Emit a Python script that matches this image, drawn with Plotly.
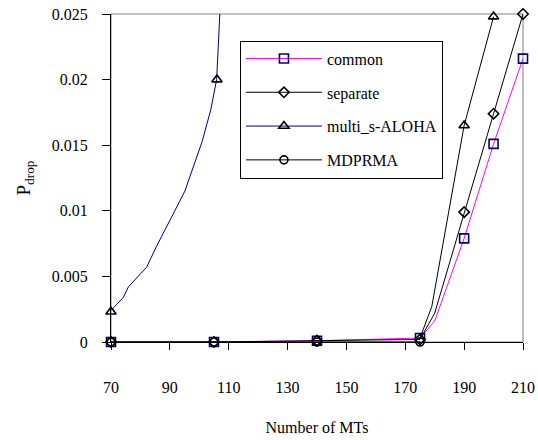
import plotly.graph_objects as go

# ---- data ----
x_ticks = [70, 90, 110, 130, 150, 170, 190, 210]
y_ticks = [0, 0.005, 0.01, 0.015, 0.02, 0.025]
y_ticklabels = ["0", "0.005", "0.01", "0.015", "0.02", "0.025"]

# common
common_line_x = [70, 105, 140, 175, 180, 190, 200, 210]
common_line_y = [0, 0, 0.0001, 0.0003, 0.0016, 0.0079, 0.0151, 0.0216]
common_mark_x = [70, 105, 140, 175, 190, 200, 210]
common_mark_y = [0, 0, 0.0001, 0.0003, 0.0079, 0.0151, 0.0216]

# separate
separate_line_x = [70, 105, 140, 175, 180, 190, 200, 210]
separate_line_y = [0, 0, 0.0001, 0.0002, 0.0022, 0.0099, 0.0174, 0.025]
separate_mark_x = [70, 105, 140, 175, 190, 200, 210]
separate_mark_y = [0, 0, 0.0001, 0.0002, 0.0099, 0.0174, 0.025]

# multi_s-ALOHA (analytical curve + simulation markers)
aloha_line_x = [70, 74.2, 75.9, 82.1, 85.5, 90.0, 95.1, 101.0, 103.9, 105.9, 106.5, 107.0]
aloha_line_y = [0.0024, 0.0034, 0.0042, 0.0057, 0.0073, 0.0093, 0.0115, 0.0153, 0.0177, 0.0200, 0.0223, 0.0251]
aloha_mark_x = [70, 106]
aloha_mark_y = [0.0023, 0.0200]

# second triangle curve (right side)
tri2_line_x = [175, 179, 190, 200]
tri2_line_y = [0.0003, 0.0027, 0.0165, 0.0248]
tri2_mark_x = [190, 200]
tri2_mark_y = [0.0165, 0.0248]

# MDPRMA
mdprma_x = [70, 105, 140, 175]
mdprma_y = [0, 0, 0, 0]

NAVY = "#000080"
MAG = "#FF00FF"
BLK = "#000000"
FONT = "Liberation Serif, Times New Roman, serif"

fig = go.Figure()

def add_series(name, lx, ly, mx, my, line_color, symbol, msize, mcolor, legend=True):
    fig.add_trace(go.Scatter(x=lx, y=ly, mode="lines",
                             line=dict(color=line_color, width=1),
                             showlegend=False, hoverinfo="skip"))
    fig.add_trace(go.Scatter(x=mx, y=my, mode="markers", cliponaxis=False,
                             marker=dict(symbol=symbol, size=msize, color=mcolor,
                                         line=dict(color=mcolor, width=1.6)),
                             showlegend=False, hoverinfo="skip"))
    if legend:
        fig.add_trace(go.Scatter(x=[None], y=[None], mode="lines+markers", name=name,
                                 legendgroup=name,
                                 line=dict(color=line_color, width=1),
                                 marker=dict(symbol=symbol, size=msize, color=mcolor,
                                             line=dict(color=mcolor, width=1.6))))

add_series("common", common_line_x, common_line_y, common_mark_x, common_mark_y,
           MAG, "square-open", 9, NAVY)
add_series("separate", separate_line_x, separate_line_y, separate_mark_x, separate_mark_y,
           BLK, "diamond-open", 8, BLK)
add_series("multi_s-ALOHA", aloha_line_x, aloha_line_y, aloha_mark_x, aloha_mark_y,
           NAVY, "triangle-up-open", 9, BLK)
add_series("tri2", tri2_line_x, tri2_line_y, tri2_mark_x, tri2_mark_y,
           BLK, "triangle-up-open", 9, BLK, legend=False)
add_series("MDPRMA", mdprma_x, mdprma_y, mdprma_x, mdprma_y,
           BLK, "circle-open", 8, BLK)

fig.update_layout(
    width=538, height=440,
    margin=dict(l=111, r=15, t=14, b=98, autoexpand=False),
    paper_bgcolor="white", plot_bgcolor="white",
    font=dict(family=FONT, size=16, color="black"),
    legend=dict(x=0.313, y=0.919, xanchor="left", yanchor="top",
                bordercolor="black", borderwidth=1, bgcolor="white",
                font=dict(family=FONT, size=16, color="black"),
                tracegroupgap=10, itemwidth=76),
    shapes=[dict(type="rect", xref="paper", yref="paper", x0=0, x1=1, y0=0, y1=1,
                 line=dict(color="#808080", width=1), layer="below")],
)

fig.update_xaxes(range=[70, 210], tickvals=x_ticks, ticktext=[str(v) for v in x_ticks],
                 showgrid=False, zeroline=False, showline=True, linecolor="black", linewidth=1,
                 ticks="outside", ticklen=7, tickcolor="black", ticklabelstandoff=24,
                 ticklabeloverflow="allow",
                 title=dict(text="Number of MTs", standoff=26, font=dict(size=16)))
fig.update_yaxes(range=[0, 0.025], tickvals=y_ticks, ticktext=y_ticklabels,
                 showgrid=False, zeroline=False, showline=True, linecolor="black", linewidth=1,
                 ticks="outside", ticklen=8, tickcolor="black", ticklabelstandoff=11,
                 ticklabeloverflow="allow",
                 title=dict(text="P<sub>drop</sub>", standoff=16, font=dict(size=19)))

fig.write_html("out.html",
               config={"displayModeBar": False},
               post_script="document.body.style.margin='0';document.body.style.overflow='hidden';")
